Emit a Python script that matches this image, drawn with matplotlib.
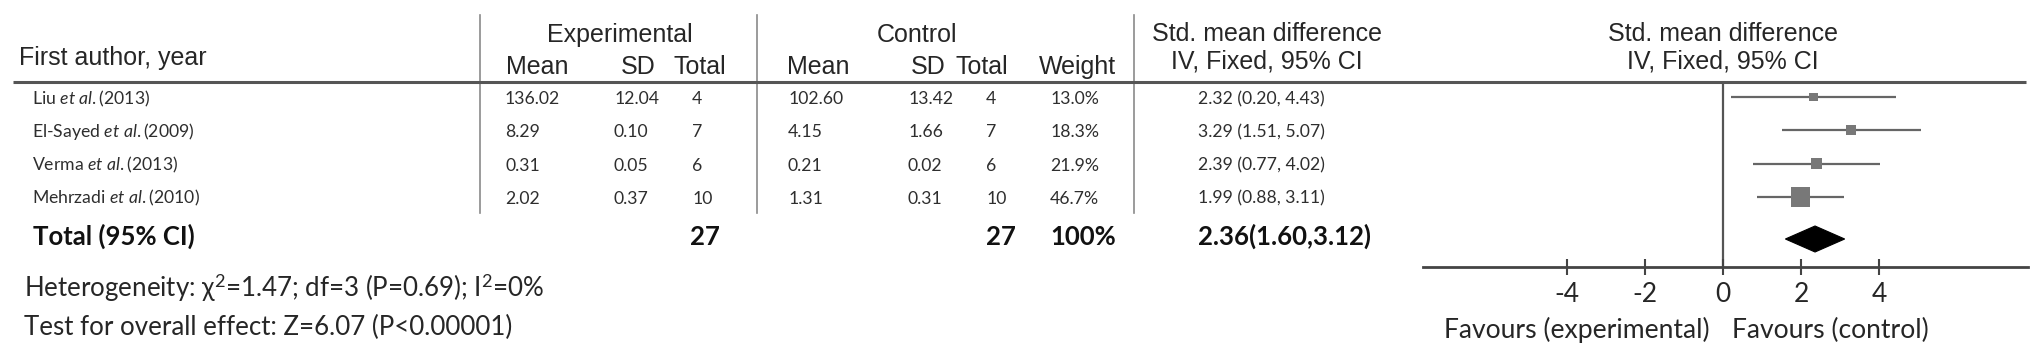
import matplotlib
matplotlib.use("Agg")
import matplotlib.pyplot as plt
from matplotlib.patches import Polygon

# ---------------- data ----------------
studies = ["Liu", "El-Sayed", "Verma", "Mehrzadi"]
years = ["2013", "2009", "2013", "2010"]
exp_mean = ["136.02", "8.29", "0.31", "2.02"]
exp_sd = ["12.04", "0.10", "0.05", "0.37"]
exp_n = [4, 7, 6, 10]
ctl_mean = ["102.60", "4.15", "0.21", "1.31"]
ctl_sd = ["13.42", "1.66", "0.02", "0.31"]
ctl_n = [4, 7, 6, 10]
weights = [13.0, 18.3, 21.9, 46.7]
smd = [2.32, 3.29, 2.39, 1.99]
ci_low = [0.20, 1.51, 0.77, 0.88]
ci_high = [4.43, 5.07, 4.02, 3.11]
total_smd, total_low, total_high = 2.36, 1.60, 3.12
total_weight = "100%"
xticks = [-4, -2, 0, 2, 4]
heterogeneity = "Heterogeneity: χ$^{2}$=1.47; df=3 (P=0.69); I$^{2}$=0%"
overall = "Test for overall effect: Z=6.07 (P<0.00001)"

# ---------------- style ----------------
plt.rcParams["mathtext.fontset"] = "custom"
plt.rcParams["mathtext.rm"] = "Lato"
plt.rcParams["mathtext.it"] = "Lato:italic"
plt.rcParams["mathtext.bf"] = "Lato:bold"
HEAD = ["Liberation Sans", "DejaVu Sans"]
BODY = ["Lato", "DejaVu Sans"]
TXT = "#262626"

W, H = 2032, 357
fig = plt.figure(figsize=(W / 100, H / 100), dpi=100)
bg = fig.add_axes([0, 0, 1, 1])
bg.set_xlim(0, W)
bg.set_ylim(H, 0)
bg.axis("off")
R = fig.canvas.get_renderer()


def fit(t, target):
    for _ in range(3):
        w = t.get_window_extent(R).width
        t.set_fontsize(t.get_fontsize() * target / w)
    return t.get_fontsize()


# ---------------- table lines ----------------
bg.plot([13, 2026], [81.5, 81.5], color="#555555", lw=2.2, solid_capstyle="butt", zorder=5)
for xs in [480, 757, 1134]:
    bg.plot([xs, xs], [15, 213], color="#8a8a8a", lw=1.2)

# ---------------- headers ----------------
hs = 18
bg.text(19, 65, "First author, year", family=HEAD, fontsize=hs, color=TXT, va="baseline", ha="left")
bg.text(620, 42, "Experimental", family=HEAD, fontsize=hs, color=TXT, va="baseline", ha="center")
bg.text(917, 42, "Control", family=HEAD, fontsize=hs, color=TXT, va="baseline", ha="center")
for lab, xc in [("Mean", 537), ("SD", 638), ("Total", 700), ("Mean", 818), ("SD", 928),
                ("Total", 982), ("Weight", 1077)]:
    bg.text(xc, 74, lab, family=HEAD, fontsize=hs, color=TXT, va="baseline", ha="center")
for xc in [1267, 1723]:
    bg.text(xc, 41, "Std. mean difference", family=HEAD, fontsize=hs, color=TXT, va="baseline", ha="center")
    bg.text(xc, 69, "IV, Fixed, 95% CI", family=HEAD, fontsize=hs, color=TXT, va="baseline", ha="center")

# ---------------- study rows ----------------
row0, dy = 104, 33.3
probe = bg.text(32, row0, studies[3] + " $\\mathit{et\\ al.}$(" + years[3] + ")", family=BODY,
                fontsize=12, va="baseline", ha="left")
rs = fit(probe, 168)
probe.remove()

cols = [(505, exp_mean), (614, exp_sd), (692, [str(n) for n in exp_n]),
        (788, ctl_mean), (908, ctl_sd), (986, [str(n) for n in ctl_n]),
        (1050, ["%.1f%%" % w for w in weights]),
        (1198, ["%.2f (%.2f, %.2f)" % (s, l, h) for s, l, h in zip(smd, ci_low, ci_high)])]
for i, (name, yr) in enumerate(zip(studies, years)):
    yb = row0 + dy * i
    bg.text(32, yb, name + " $\\mathit{et\\ al.}$(" + yr + ")", family=BODY, fontsize=rs,
            color="#2e2e2e", va="baseline", ha="left")
    for xc, vals in cols:
        bg.text(xc, yb, vals[i], family=BODY, fontsize=rs, color="#2e2e2e", va="baseline", ha="left")

# ---------------- total row ----------------
tb = 245
tt = bg.text(33, tb, "Total (95% CI)", family=BODY, fontsize=18, weight="bold", color="#111111",
             va="baseline", ha="left")
ts = fit(tt, 162)
for xc, s in [(690, str(sum(exp_n))), (986, str(sum(ctl_n))), (1050, total_weight),
              (1198, "%.2f(%.2f,%.2f)" % (total_smd, total_low, total_high))]:
    bg.text(xc, tb, s, family=BODY, fontsize=ts, weight="bold", color="#111111", va="baseline", ha="left")

# ---------------- footnotes ----------------
ht = bg.text(24, 297, heterogeneity, family=BODY, fontsize=16, color=TXT, va="baseline", ha="left")
fs = fit(ht, 521)
bg.text(24, 335, overall, family=BODY, fontsize=fs, color=TXT, va="baseline", ha="left")

# ---------------- forest plot ----------------
zero_px, unit_px = 1723, 39.0
fx0, fx1, fy0, fy1 = 1423, 2028, 81, 267
rc0, rdy = 97, 33.4
ax = fig.add_axes([fx0 / W, 1 - fy1 / H, (fx1 - fx0) / W, (fy1 - fy0) / H])
ax.set_xlim((fx0 - zero_px) / unit_px, (fx1 - zero_px) / unit_px)
ax.set_ylim((fy1 - rc0) / rdy, (fy0 - rc0) / rdy)
ax.patch.set_alpha(0)
for sp in ["top", "left", "right"]:
    ax.spines[sp].set_visible(False)
ax.spines["bottom"].set_color("#444444")
ax.spines["bottom"].set_linewidth(2.0)
ax.set_yticks([])
ax.set_xticks(xticks)
ax.tick_params(axis="x", direction="inout", length=11, width=1.5, color="#444444", pad=5,
               labelcolor=TXT)
ax.set_xticklabels([str(t) for t in xticks], family=BODY, fontsize=19)

rows = list(range(len(studies)))
ax.axvline(0, color="#555555", lw=1.6, zorder=1)
ax.hlines(rows, ci_low, ci_high, color="#666666", lw=1.6, zorder=2)
sizes = [((4 + 0.33 * w) * 0.72) ** 2 for w in weights]
ax.scatter(smd, rows, marker="s", s=sizes, color="#787878", linewidths=0, zorder=3)
yd, hd = (239 - rc0) / rdy, 13 / rdy
ax.add_patch(Polygon([[total_low, yd], [total_smd, yd - hd], [total_high, yd], [total_smd, yd + hd]],
                     closed=True, facecolor="black", edgecolor="black", lw=0.8, zorder=3))

ff = bg.text(1732, 338, "Favours (control)", family=BODY, fontsize=16, color=TXT, va="baseline", ha="left")
fsz = fit(ff, 196)
bg.text(1710, 338, "Favours (experimental)", family=BODY, fontsize=fsz, color=TXT, va="baseline", ha="right")

fig.savefig("out.png", dpi=100)
